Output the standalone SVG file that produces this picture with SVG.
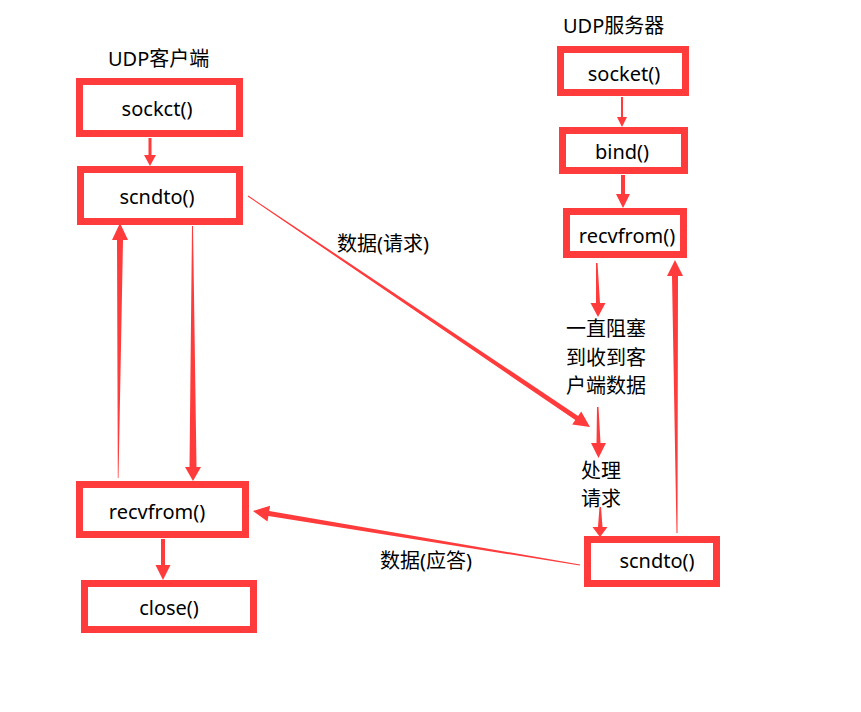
<svg xmlns="http://www.w3.org/2000/svg" width="861" height="712" viewBox="0 0 861 712">
<style>
.box{fill:#fff;stroke:#FF3B3B;stroke-width:7}
.t{font-family:"Noto Sans","Noto Sans CJK SC",sans-serif;font-size:20px;fill:#000;dominant-baseline:central}
.c{text-anchor:middle}
.arr{fill:#FF3B3B;stroke:none}
</style>
<rect width="861" height="712" fill="#fff"/>
<text class="t" x="108" y="58">UDP客户端</text>
<text class="t" x="563" y="25">UDP服务器</text>
<g id="connectors">
<polygon class="arr" points="148.5,138 151.5,138 151.5,155 156,155 150,166 144,155 148.5,155"/>
<polygon class="arr" points="621,97 623,97 623,117 627,117 622,127 617,117 621,117"/>
<polygon class="arr" points="621,175 625,175 625,194 630,194 623,208 616,194 621,194"/>
<polygon class="arr" points="161,539 165,539 165,565 170.5,565 163,580 155.5,565 161,565"/>
<polygon class="arr" points="596,263 597.5,263 600,303 605.5,303 598,317 590.5,303 596,303"/>
<polygon class="arr" points="597,407 598.5,407 600.5,443 606,443 598.5,458 591,443 596.5,443"/>
<polygon class="arr" points="599.5,507 601,507 602.5,527 607.5,527 600,537 592.5,527 598,527"/>
<polygon class="arr" points="118.5,478 123,240 128,240 120,223 112,240 117,240 117.8,478"/>
<polygon class="arr" points="192,226 193,226 196.5,467 201,467 193,481 185,467 189.5,467"/>
<polygon class="arr" points="677.5,533 678,276 683,276 675,260 667,276 672,276 676.5,533"/>
<polygon class="arr" points="248.3,195.6 578.1,415.9 581.2,411.4 590,427 572.2,424.6 575.3,420.1 247.7,196.4"/>
<polygon class="arr" points="580.1,564.5 269.2,511.1 270.1,505.7 253,511 267.5,521.5 268.4,516.1 579.9,565.5"/>
</g>
<g id="client-sockct"><rect class="box" x="79.5" y="81.5" width="160" height="52"/><text class="t c" x="157" y="108">sockct()</text></g>
<g id="client-scndto"><rect class="box" x="80.5" y="169.5" width="159" height="52"/><text class="t c" x="157" y="196">scndto()</text></g>
<g id="client-recvfrom"><rect class="box" x="79.5" y="484.5" width="166" height="50"/><text class="t c" x="157" y="511">recvfrom()</text></g>
<g id="client-close"><rect class="box" x="84.5" y="583.5" width="169" height="46"/><text class="t c" x="169" y="607">close()</text></g>
<g id="server-socket"><rect class="box" x="560.5" y="49.5" width="125" height="43"/><text class="t c" x="624" y="73">socket()</text></g>
<g id="server-bind"><rect class="box" x="562.5" y="130.5" width="122" height="40"/><text class="t c" x="622" y="151">bind()</text></g>
<g id="server-recvfrom"><rect class="box" x="566.5" y="211.5" width="117" height="43"/><text class="t c" x="627" y="235">recvfrom()</text></g>
<g id="server-scndto"><rect class="box" x="587.5" y="539.5" width="129" height="44"/><text class="t c" x="657" y="560">scndto()</text></g>
<g id="labels">
<text class="t" x="337" y="243">数据(请求)</text>
<text class="t" x="380" y="560">数据(应答)</text>
<text class="t" x="566" y="328">一直阻塞</text>
<text class="t" x="566" y="357">到收到客</text>
<text class="t" x="566" y="385">户端数据</text>
<text class="t" x="581" y="470">处理</text>
<text class="t" x="581" y="498">请求</text>
</g>
</svg>
